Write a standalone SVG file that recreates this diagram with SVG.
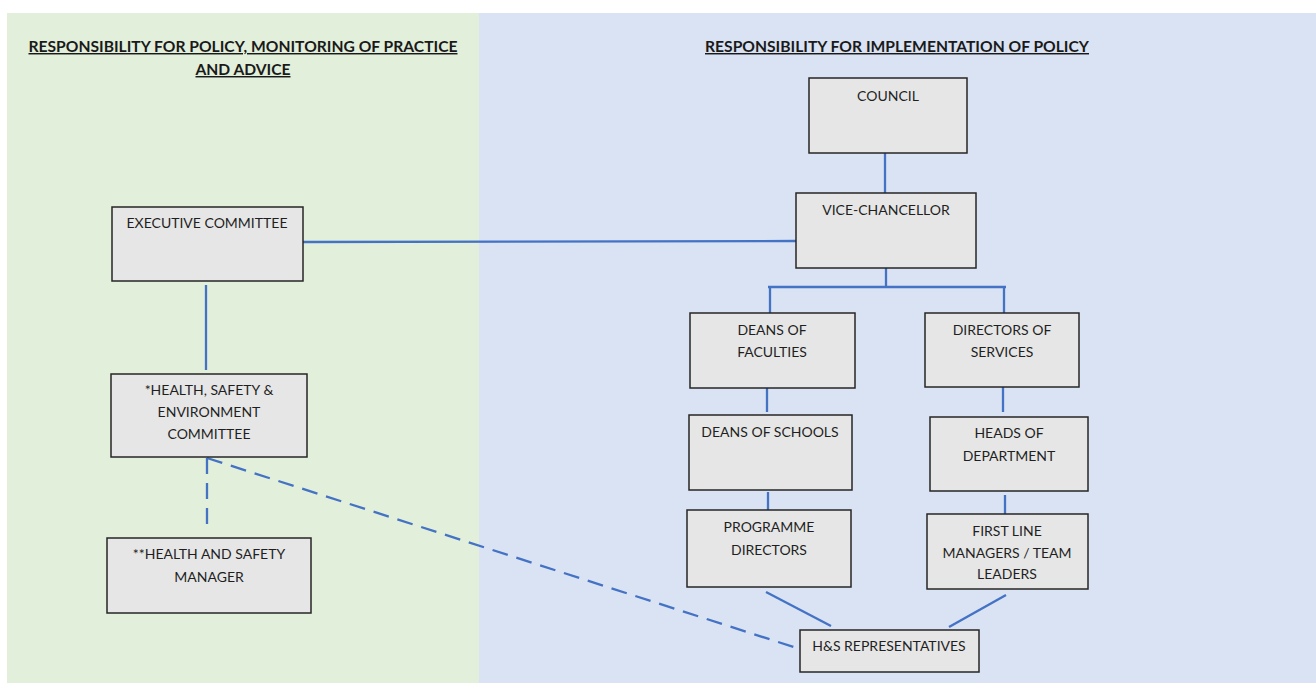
<svg xmlns="http://www.w3.org/2000/svg" width="1316" height="683" viewBox="0 0 1316 683">
<style>
.box{fill:#e6e6e6;stroke:#262626;stroke-width:1.5}
.t{font-family:Lato,"Liberation Sans",sans-serif;font-size:14px;fill:#1f1f1f;text-anchor:middle}
.title{font-family:Lato,"Liberation Sans",sans-serif;font-size:14.5px;font-weight:bold;fill:#1a1a1a;text-anchor:middle;text-decoration:underline}
.ln{stroke:#4472c4;stroke-width:2.3;fill:none}
.dash{stroke:#4472c4;stroke-width:2.3;fill:none;stroke-dasharray:16 9}
</style>
<rect x="0" y="0" width="1316" height="683" fill="#ffffff"/>
<rect x="7" y="13" width="472" height="670" fill="#e2efda"/>
<rect x="479" y="13" width="837" height="670" fill="#dae3f3"/>
<text class="title" x="243" y="52" textLength="429" lengthAdjust="spacingAndGlyphs">RESPONSIBILITY FOR POLICY, MONITORING OF PRACTICE</text>
<text class="title" x="243" y="75" textLength="95" lengthAdjust="spacingAndGlyphs">AND ADVICE</text>
<text class="title" x="897" y="52" textLength="384" lengthAdjust="spacingAndGlyphs">RESPONSIBILITY FOR IMPLEMENTATION OF POLICY</text>
<g id="connectors">
<line class="ln" x1="885" y1="153" x2="885" y2="193"/>
<line class="ln" x1="303" y1="242" x2="796" y2="241"/>
<line class="ln" x1="206" y1="285" x2="206" y2="370"/>
<line class="ln" x1="886" y1="268" x2="886" y2="287"/>
<line class="ln" x1="768" y1="287" x2="1006" y2="287"/>
<line class="ln" x1="770" y1="287" x2="770" y2="313"/>
<line class="ln" x1="1004" y1="287" x2="1004" y2="313"/>
<line class="ln" x1="767" y1="388" x2="767" y2="412"/>
<line class="ln" x1="768" y1="492" x2="768" y2="515"/>
<line class="ln" x1="1003" y1="387" x2="1003" y2="412"/>
<line class="ln" x1="1005" y1="495" x2="1005" y2="517"/>
<line class="ln" x1="766" y1="592" x2="831" y2="626"/>
<line class="ln" x1="1006" y1="595" x2="949" y2="627"/>
<line class="dash" x1="207" y1="458" x2="207" y2="531"/>
<line class="dash" x1="207" y1="458" x2="803" y2="650"/>
</g>
<g id="council"><rect class="box" x="809" y="78" width="158" height="75"/><text class="t" x="888" y="101">COUNCIL</text></g>
<g id="vice-chancellor"><rect class="box" x="796" y="193" width="180" height="75"/><text class="t" x="886" y="215">VICE-CHANCELLOR</text></g>
<g id="executive-committee"><rect class="box" x="112" y="207" width="191" height="74"/><text class="t" x="207" y="228">EXECUTIVE COMMITTEE</text></g>
<g id="hse-committee"><rect class="box" x="111" y="374" width="196" height="83"/><text class="t" x="209" y="395">*HEALTH, SAFETY &amp;</text><text class="t" x="209" y="417">ENVIRONMENT</text><text class="t" x="209" y="439">COMMITTEE</text></g>
<g id="hs-manager"><rect class="box" x="107" y="538" width="204" height="75"/><text class="t" x="209" y="559">**HEALTH AND SAFETY</text><text class="t" x="209" y="582">MANAGER</text></g>
<g id="deans-faculties"><rect class="box" x="690" y="313" width="165" height="75"/><text class="t" x="772" y="335">DEANS OF</text><text class="t" x="772" y="357">FACULTIES</text></g>
<g id="directors-services"><rect class="box" x="925" y="313" width="154" height="74"/><text class="t" x="1002" y="335">DIRECTORS OF</text><text class="t" x="1002" y="357">SERVICES</text></g>
<g id="deans-schools"><rect class="box" x="689" y="415" width="163" height="75"/><text class="t" x="770" y="437">DEANS OF SCHOOLS</text></g>
<g id="heads-department"><rect class="box" x="930" y="417" width="158" height="74"/><text class="t" x="1009" y="438">HEADS OF</text><text class="t" x="1009" y="461">DEPARTMENT</text></g>
<g id="programme-directors"><rect class="box" x="687" y="510" width="164" height="77"/><text class="t" x="769" y="532">PROGRAMME</text><text class="t" x="769" y="555">DIRECTORS</text></g>
<g id="first-line-managers"><rect class="box" x="927" y="514" width="161" height="75"/><text class="t" x="1007" y="536">FIRST LINE</text><text class="t" x="1007" y="558">MANAGERS / TEAM</text><text class="t" x="1007" y="579">LEADERS</text></g>
<g id="hs-representatives"><rect class="box" x="800" y="630" width="179" height="42"/><text class="t" x="889" y="651">H&amp;S REPRESENTATIVES</text></g>
</svg>
